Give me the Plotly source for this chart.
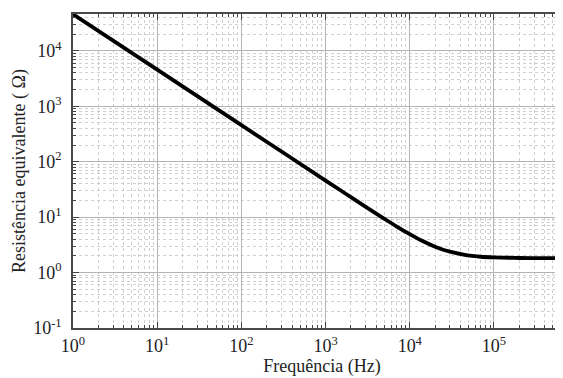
import plotly.graph_objects as go

freq_hz = [1, 10, 100, 1000, 1500, 2000, 3000, 5000, 7000, 10000, 14000, 20000, 25000,
           30000, 45000, 55000, 70000, 100000, 150000, 200000, 400000, 820000]
resist_ohm = [45700, 4570, 457, 45.7, 30.5, 22.9, 15.3, 9.32, 6.77, 4.93, 3.74, 2.92, 2.58,
              2.38, 2.08, 2.0, 1.93, 1.88, 1.85, 1.83, 1.82, 1.82]

x_tickvals = [1, 10, 100, 1000, 10000, 100000]
x_ticktext = ["10<sup>0</sup>", "10<sup>1</sup>", "10<sup>2</sup>", "10<sup>3</sup>",
              "10<sup>4</sup>", "10<sup>5</sup>"]
y_tickvals = [0.1, 1, 10, 100, 1000, 10000]
y_ticktext = ["10<sup>-1</sup>", "10<sup>0</sup>", "10<sup>1</sup>", "10<sup>2</sup>",
              "10<sup>3</sup>", "10<sup>4</sup>"]

x_label = "Frequência (Hz)"
y_label = "Resistência equivalente ( Ω)"

font_family = "Liberation Serif, 'Times New Roman', Times, serif"

# minor grid positions (2..9 within each decade)
digits = [2, 3, 4, 5, 6, 7, 8, 9]
x_minor = [d * 10 ** e for e in range(0, 6) for d in digits]
y_minor = [d * 10 ** e for e in range(-1, 5) for d in digits]

fig = go.Figure()
fig.add_trace(go.Scatter(
    x=freq_hz, y=resist_ohm, mode="lines",
    line=dict(color="black", width=3.8, shape="spline", smoothing=0.6),
    showlegend=False, hoverinfo="skip",
))

axis_common = dict(
    type="log",
    showgrid=True,
    gridcolor="#b4b4b4",
    gridwidth=1,
    showline=True,
    linecolor="#4a4a4a",
    linewidth=1.5,
    ticks="inside",
    ticklen=6,
    tickcolor="#444444",
    tickfont=dict(family=font_family, size=18, color="#222"),
    zeroline=False,
    automargin=False,
)
minor_common = dict(
    ticks="inside", ticklen=3, tickcolor="#444444",
    showgrid=True, gridcolor="#cfcfcf", griddash="dot", gridwidth=1,
)

fig.update_xaxes(
    **axis_common,
    tickvals=x_tickvals, ticktext=x_ticktext,
    minor=dict(**minor_common, tickvals=x_minor),
    range=[0, 5.915],
    mirror="ticks",
    ticklabelstandoff=1,
    title=dict(text=x_label, font=dict(family=font_family, size=18, color="#222"), standoff=0),
)
fig.update_yaxes(
    **axis_common,
    tickvals=y_tickvals, ticktext=y_ticktext,
    minor=dict(**minor_common, tickvals=y_minor),
    range=[-1, 4.664],
    ticklabelstandoff=6,
    title=dict(text=y_label, font=dict(family=font_family, size=18, color="#222"), standoff=3),
)

fig.update_layout(
    width=563, height=378,
    margin=dict(l=65, r=0, t=6, b=58),
    paper_bgcolor="white",
    plot_bgcolor="white",
    font=dict(family=font_family),
)

fig.write_html("out.html")
